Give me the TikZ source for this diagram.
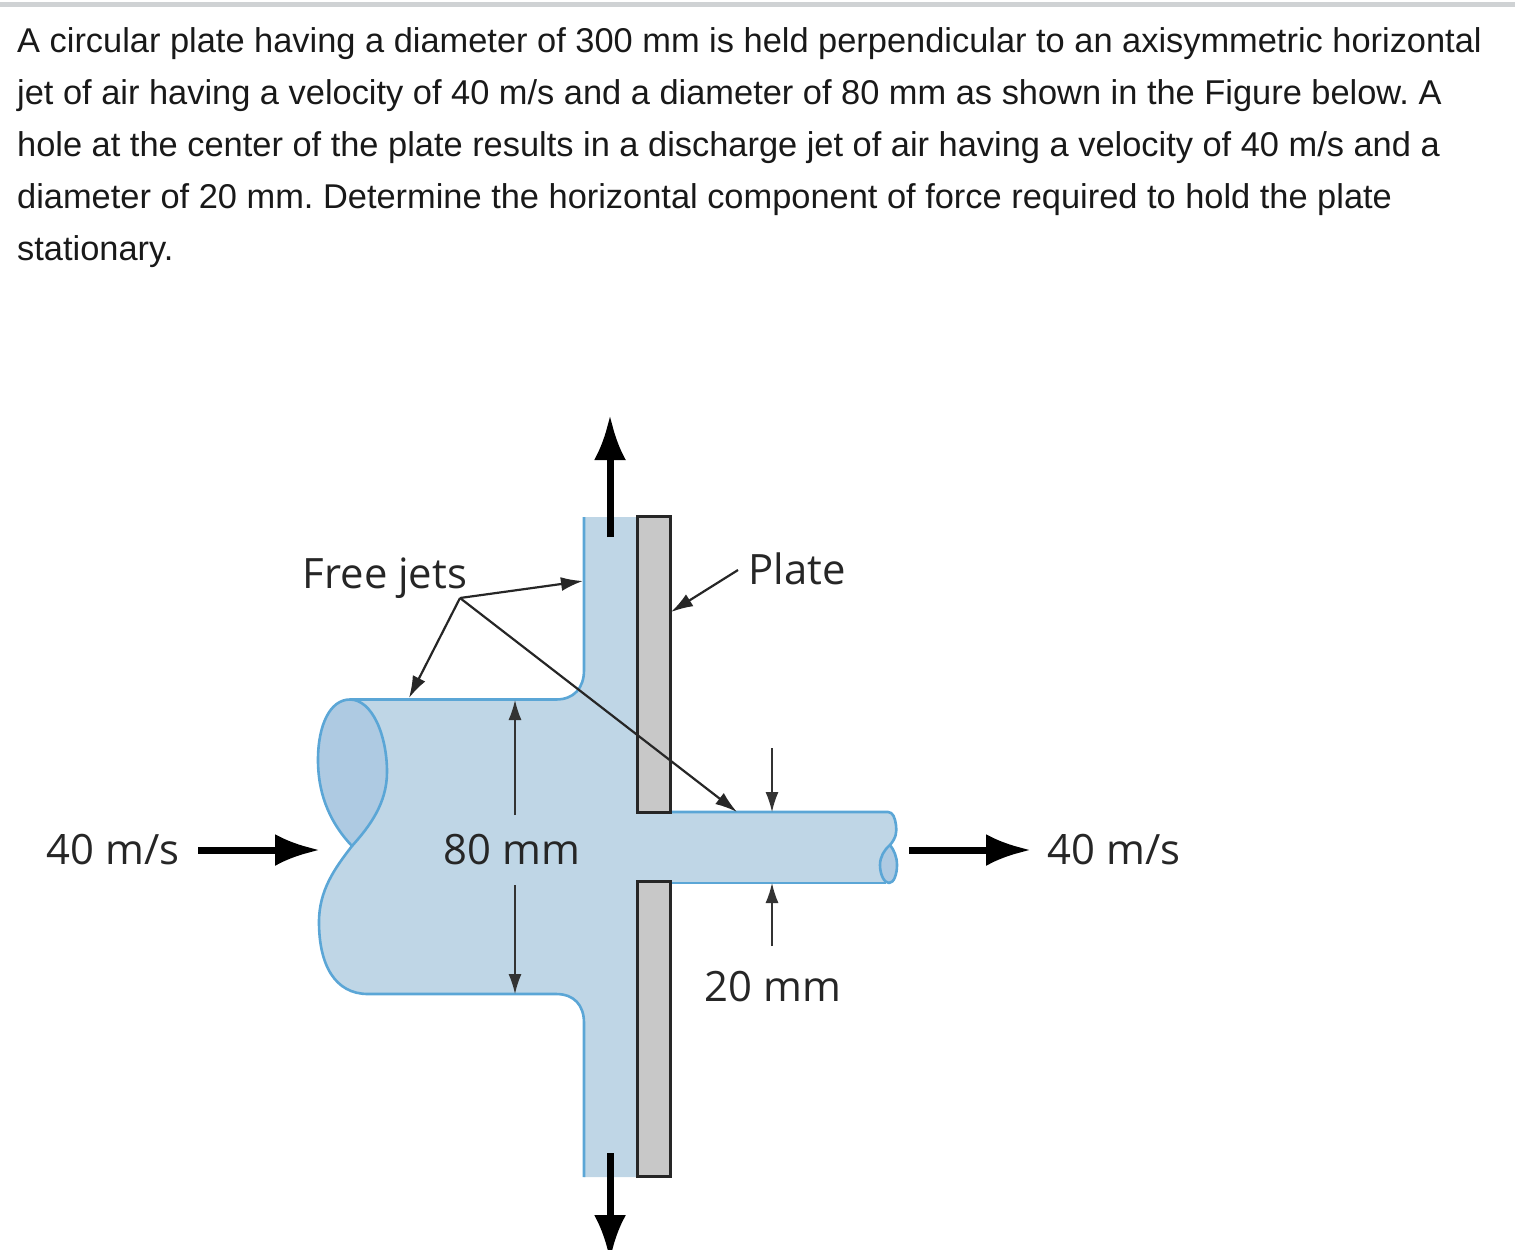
\documentclass[tikz,border=0pt]{standalone}
\usepackage{fontspec}
\setmainfont{Liberation Sans}
\newfontfamily\figfont{Open Sans}
\usetikzlibrary{arrows.meta}
\definecolor{jetfill}{HTML}{BFD6E6}
\definecolor{jetend}{HTML}{AECAE2}
\definecolor{jetline}{HTML}{5BA6D6}
\definecolor{platefill}{HTML}{C8C8C8}
\definecolor{rulegray}{HTML}{CFD2D4}
\tikzset{
  x=1pt,y=-1pt,
  para/.style={anchor=base west,inner sep=0pt,font=\fontsize{34.4}{40}\selectfont\frenchspacing,text=black!90},
  figlabel/.style={anchor=base,inner sep=0pt,font=\figfont\fontsize{41.8}{48}\selectfont,text=black!85},
  jetedge/.style={draw=jetline,line width=2.6pt,line join=round},
  plateshape/.style={draw=black!85,line width=3pt,fill=platefill},
  bigarrow/.style={line width=7pt,draw=black,-{Latex[length=45pt,width=32pt]}},
  leader/.style={line width=2.2pt,draw=black!85,-{Latex[length=22pt,width=14pt]}},
  dimline/.style={line width=1.5pt,draw=black!80,-{Latex[length=20pt,width=13pt]}},
}
\begin{document}
\begin{tikzpicture}
\useasboundingbox (0,0) rectangle (1515,1250);
\fill[rulegray] (0,2) rectangle (1515,7);
% paragraph
\node[para] (l1) at (17,52) {A circular plate having a diameter of 300 mm is held perpendicular to an axisymmetric horizontal};
\node[para] (l2) at (17,104) {jet of air having a velocity of 40 m/s and a diameter of 80 mm as shown in the Figure below. A};
\node[para] (l3) at (17,156) {hole at the center of the plate results in a discharge jet of air having a velocity of 40 m/s and a};
\node[para] (l4) at (17,208) {diameter of 20 mm. Determine the horizontal component of force required to hold the plate};
\node[para] (l5) at (17,260) {stationary.};
% jet body
\fill[jetfill] (584,517) -- (584,670) .. controls (584,688) and (574,699.5) .. (556,699.5)
  -- (350,699.5) -- (387,770) -- (352,846)
  .. controls (335,868) and (319,890) .. (319,922)
  .. controls (319,965) and (335,994) .. (368,994)
  -- (556,994) .. controls (574,994) and (584,1005) .. (584,1023)
  -- (584,1177) -- (640,1177) -- (640,883) -- (886,883)
  -- (897,860) -- (890,845) .. controls (896,838) and (897,830) .. (896,825)
  .. controls (895,818) and (893,812) .. (888,812) -- (640,812) -- (640,517) -- cycle;
% inlet end
\filldraw[jetedge,fill=jetend] (350,699.5) .. controls (372,699.5) and (387,735) .. (387,772)
  .. controls (387,803) and (370,826) .. (352,846)
  .. controls (332,825) and (318,797) .. (318,760)
  .. controls (318,725) and (330,699.5) .. (350,699.5) -- cycle;
% outlines
\draw[jetedge] (584,517) -- (584,670) .. controls (584,688) and (574,699.5) .. (556,699.5) -- (350,699.5);
\draw[jetedge] (352,846) .. controls (335,868) and (319,890) .. (319,922)
  .. controls (319,965) and (335,994) .. (368,994)
  -- (556,994) .. controls (574,994) and (584,1005) .. (584,1023) -- (584,1177);
\draw[jetedge] (670,812) -- (888,812) .. controls (893,812) and (895,818) .. (896,825)
  .. controls (897,832) and (896,838) .. (890,845);
\draw[jetedge] (670,883) -- (886,883);
\filldraw[jetedge,fill=jetend] (890,845) .. controls (884,850) and (880,857) .. (880,865)
  .. controls (880,874) and (884,883) .. (889,883)
  .. controls (894,883) and (897,874) .. (897,865)
  .. controls (897,857) and (894,850) .. (890,845) -- cycle;
% plate
\path[plateshape] (637,516) rectangle (670,812);
\path[plateshape] (637,881) rectangle (670,1176);
% flow arrows
\coordinate (upS) at (610,537);   \coordinate (upE) at (610,415);
\coordinate (dnS) at (610,1153);  \coordinate (dnE) at (610,1260);
\coordinate (inS) at (198,850);   \coordinate (inE) at (320,850);
\coordinate (outS) at (909,850);  \coordinate (outE) at (1031,850);
\draw[bigarrow] (upS) -- (upE);
\draw[bigarrow] (dnS) -- (dnE);
\draw[bigarrow] (inS) -- (inE);
\draw[bigarrow] (outS) -- (outE);
% labels
\node[figlabel] (v1) at (113,864) {40 m/s};
\node[figlabel] (v2) at (1114,864) {40 m/s};
\node[figlabel] (d80) at (512,864) {80 mm};
\node[figlabel] (d20) at (773,1001) {20 mm};
\node[figlabel] (fj) at (385,588) {Free jets};
\node[figlabel] (pl) at (797,584) {Plate};
% leaders
\coordinate (apex) at (460,598);
\coordinate (fjA) at (583,581);
\coordinate (fjB) at (409,698);
\coordinate (fjC) at (737,812);
\coordinate (plS) at (738,570);
\coordinate (plE) at (671,612);
\draw[leader] (apex) -- (fjA);
\draw[leader] (apex) -- (fjB);
\draw[leader] (apex) -- (fjC);
\draw[leader] (plS) -- (plE);
% dimensions
\coordinate (a80t) at (515,700);  \coordinate (a80ts) at (515,815);
\coordinate (a80b) at (515,994);  \coordinate (a80bs) at (515,885);
\coordinate (a20t) at (772,812);  \coordinate (a20ts) at (772,748);
\coordinate (a20b) at (772,883);  \coordinate (a20bs) at (772,946);
\draw[dimline] (a80ts) -- (a80t);
\draw[dimline] (a80bs) -- (a80b);
\draw[dimline] (a20ts) -- (a20t);
\draw[dimline] (a20bs) -- (a20b);
\end{tikzpicture}
\end{document}
